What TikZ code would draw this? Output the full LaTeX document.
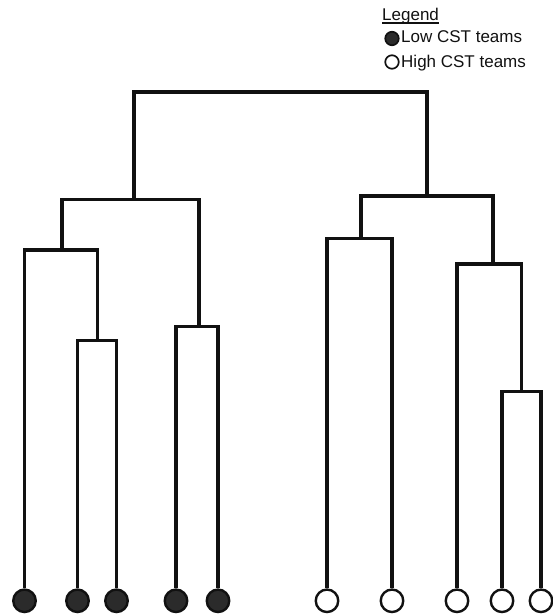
\documentclass[tikz,border=0pt]{standalone}
\usepackage{fontspec}
\setmainfont{Liberation Sans}
\usetikzlibrary{positioning}
\definecolor{lowfill}{HTML}{2B2B2B}
\definecolor{treeline}{HTML}{111111}
\newcommand{\legendunder}[1]{{\setbox0\hbox{#1}\rlap{\rule[-2.6pt]{\wd0}{1.2pt}}#1}}
\tikzset{
  branch/.style={
    draw=treeline,
    line width=3.1pt,
    line join=miter
  },
  teamleaf/.style={
    circle,
    draw=treeline,
    line width=2.4pt,
    minimum size=22.5pt,
    inner sep=0pt
  },
  lowteam/.style={teamleaf, fill=lowfill},
  highteam/.style={teamleaf, fill=white},
  legendkey/.style={
    circle,
    draw=treeline,
    line width=1.7pt,
    minimum size=13.5pt,
    inner sep=0pt
  },
  legendtext/.style={
    anchor=base west,
    inner sep=0pt,
    text=treeline,
    font=\fontsize{17}{20}\selectfont
  }
}

\begin{document}
\begin{tikzpicture}[x=1pt, y=-1pt]
  \useasboundingbox (0,0) rectangle (552,615);

  % Teams
  \node (t1) [lowteam] at (24.5,600.8) {};
  \node (t2) [lowteam] at (77.5,600.8) {};
  \node (t3) [lowteam] at (116.5,600.8) {};
  \node (t4) [lowteam] at (176,600.8) {};
  \node (t5) [lowteam] at (218,600.8) {};
  \node (t6) [highteam] at (327,600.8) {};
  \node (t7) [highteam] at (392,600.8) {};
  \node (t8) [highteam] at (457,600.8) {};
  \node (t9) [highteam] at (502,600.8) {};
  \node (t10) [highteam] at (541,600.8) {};

  % Merge points
  \coordinate (ma) at (97.5,340.5);
  \coordinate (mb) at (62,250);
  \coordinate (mc) at (199,326.5);
  \coordinate (md) at (134,199.5);
  \coordinate (me) at (361,238.5);
  \coordinate (mh) at (521.5,391.5);
  \coordinate (mg) at (493,264);
  \coordinate (mf) at (427,196);
  \coordinate (mroot) at (280,92);

  % Branches
  \draw [branch] (t2) |- (ma) -| (t3);
  \draw [branch] (t1) |- (mb) -| (ma);
  \draw [branch] (t4) |- (mc) -| (t5);
  \draw [branch] (mb) |- (md) -| (mc);
  \draw [branch] (t6) |- (me) -| (t7);
  \draw [branch] (t9) |- (mh) -| (t10);
  \draw [branch] (t8) |- (mg) -| (mh);
  \draw [branch] (me) |- (mf) -| (mg);
  \draw [branch] (md) |- (mroot) -| (mf);

  % Legend
  \node (legtitle) [legendtext] at (382,21) {\legendunder{Legend}};
  \node (lowkey) [legendkey, fill=lowfill] at (392,38.5) {};
  \node (leglow) [legendtext] at (401,43) {Low CST teams};
  \node (highkey) [legendkey, fill=white] at (392,62) {};
  \node (leghigh) [legendtext] at (401,68) {High CST teams};

\end{tikzpicture}
\end{document}
